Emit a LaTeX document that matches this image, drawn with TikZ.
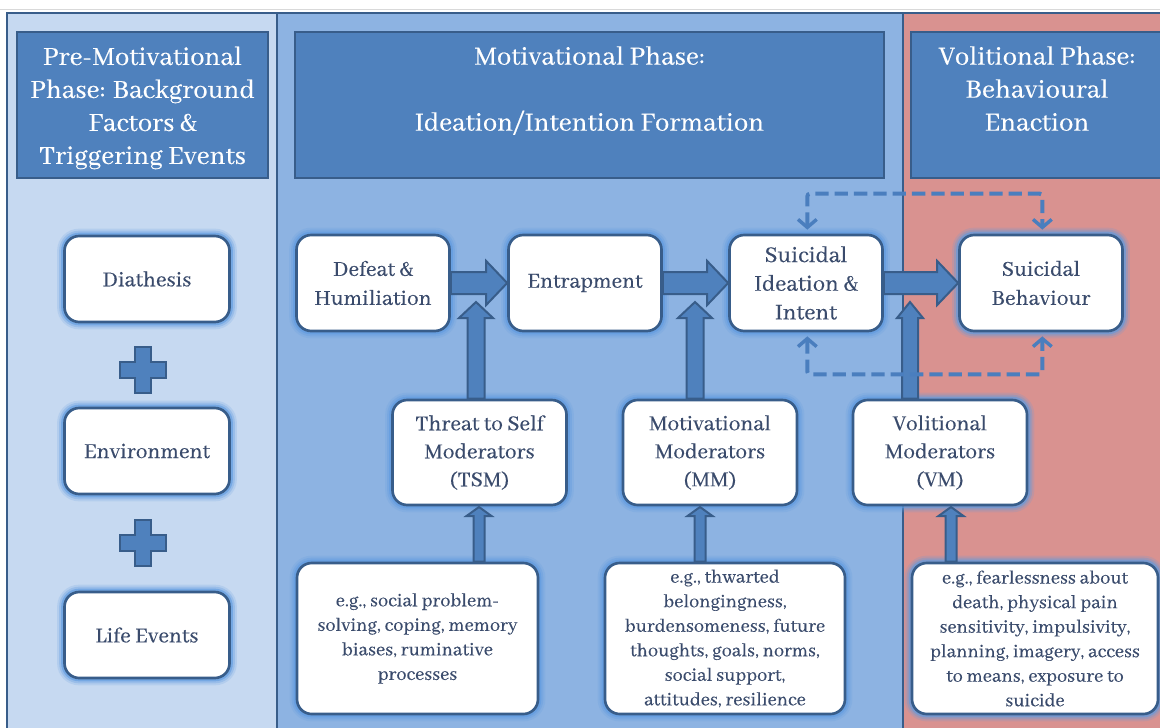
\documentclass[tikz,border=0pt]{standalone}
\usepackage{fontspec}
\setmainfont{Abhaya Libre}[FakeBold=0.4]
\usetikzlibrary{calc,arrows.meta}

\definecolor{leftc}{HTML}{C6D9F1}
\definecolor{midc}{HTML}{8DB3E2}
\definecolor{rightc}{HTML}{D99290}
\definecolor{headc}{HTML}{4F81BD}
\definecolor{bordc}{HTML}{385D8A}
\definecolor{textc}{HTML}{3A4B6C}
\definecolor{glowc}{HTML}{5E9AE0}
\definecolor{dashcol}{HTML}{4A7EBE}

\tikzset{
  panel/.style={draw=bordc, line width=1.8pt},
  header/.style={draw=bordc, line width=1.6pt, fill=headc, text=white, align=center,
    inner sep=0pt, font=\fontsize{21.5pt}{24.75pt}\selectfont},
  wbox/.style={draw=bordc, line width=2pt, fill=white, rounded corners=11pt, text=textc,
    align=center, inner sep=0pt,
    preaction={draw=glowc, line width=11pt, opacity=0.18},
    preaction={draw=glowc, line width=8pt, opacity=0.3},
    preaction={draw=glowc, line width=5pt, opacity=0.6}},
  stage/.style={wbox, font=\fontsize{17.5pt}{21.75pt}\selectfont},
  modbox/.style={wbox, minimum width=130.5pt, minimum height=78.75pt, font=\fontsize{17.5pt}{21pt}\selectfont},
  egbox/.style={wbox, minimum height=113.25pt, font=\fontsize{15.2pt}{18.4pt}\selectfont},
  barrow/.style={fill=headc, draw=bordc, line width=1.5pt, line join=miter},
  dashlink/.style={draw=dashcol, line width=3pt, dash pattern=on 10pt off 4.5pt,
    rounded corners=2pt,
    {Straight Barb[length=6pt,width=14pt,line width=2.6pt]}-{Straight Barb[length=6pt,width=14pt,line width=2.6pt]}}
}

% horizontal block arrow from east side of #1 to west side of #2
\newcommand\hblock[2]{%
  \draw[barrow] ($(#1.east)+(0,-11)$) -- ($(#2.west)+(-21,-11)$) -- ($(#2.west)+(-21,-22)$)
    -- (#2.west) -- ($(#2.west)+(-21,22)$) -- ($(#2.west)+(-21,11)$) -- ($(#1.east)+(0,11)$) -- cycle;}
% upward block arrow: base, tip, half shaft, half head, head length
\newcommand\vblock[5]{%
  \draw[barrow] ($(#1)+(-#3,0)$) -- ($(#2)+(-#3,#5)$) -- ($(#2)+(-#4,#5)$) -- (#2)
    -- ($(#2)+(#4,#5)$) -- ($(#2)+(#3,#5)$) -- ($(#1)+(#3,0)$) -- cycle;}
% plus sign centred at #1
\newcommand\plussign[1]{%
  \draw[barrow] (#1) ++(-8,-23) -- ++(16,0) -- ++(0,15) -- ++(15,0) -- ++(0,16) -- ++(-15,0)
    -- ++(0,15) -- ++(-16,0) -- ++(0,-15) -- ++(-15,0) -- ++(0,-16) -- ++(15,0) -- cycle;}

\begin{document}
\begin{tikzpicture}[x=0.75pt,y=-0.75pt]
\useasboundingbox (0,0) rectangle (1160,728);
\clip (0,0) rectangle (1160,728);
\fill[white] (0,0) rectangle (1160,728);
\draw[black!15, line width=0.75pt] (0,9) -- (1160,9);

% phase panels
\fill[leftc] (7,13) rectangle (277,740);
\fill[midc] (277,13) rectangle (903,740);
\fill[rightc] (903,13) rectangle (1175,740);
\draw[panel] (7,740) -- (7,13) -- (1175,13);
\draw[panel] (277,13) -- (277,740);
\draw[panel] (903,13) -- (903,740);

% phase headers
\node[header, minimum width=188.25pt, minimum height=109.5pt] (hpre) at (142.5,105) {};
\node[header, draw=none, fill=none] at (142.5,108)
  {Pre-Motivational\\Phase: Background\\Factors \&\\Triggering Events};
\node[header, minimum width=441.75pt, minimum height=109.5pt] (hmot) at (589.5,105)
  {Motivational Phase:\\\mbox{}\\Ideation/Intention Formation\\\mbox{}};
\node[header, minimum width=189pt, minimum height=109.5pt] (hvol) at (1037,105)
  {Volitional Phase:\\Behavioural\\Enaction\\\mbox{}};

% background factors
\node[stage, minimum width=123.75pt, minimum height=64.5pt] (dia) at (147,279) {Diathesis};
\node[stage, minimum width=123.75pt, minimum height=64.5pt] (env) at (147,451) {Environment};
\node[stage, minimum width=123.75pt, minimum height=64.5pt] (life) at (147,635) {Life Events};
\coordinate (plusA) at (143,370);
\coordinate (plusB) at (143,543);
\plussign{plusA}
\plussign{plusB}

% main pathway
\node[stage, minimum width=114.75pt, minimum height=72pt] (def) at (373,283) {Defeat \&\\Humiliation};
\node[stage, minimum width=114.75pt, minimum height=72pt] (ent) at (585,283) {Entrapment};
\node[stage, minimum width=114.75pt, minimum height=72pt, font=\fontsize{18.5pt}{21.5pt}\selectfont] (sii) at (806,283) {Suicidal\\Ideation \&\\Intent};
\node[stage, minimum width=122.25pt, minimum height=72pt] (sb) at (1041,283) {Suicidal\\Behaviour};

% moderators
\node[modbox] (tsm) at (479.5,452.5) {Threat to Self\\Moderators\\(TSM)};
\node[modbox] (mm) at (710,452.5) {Motivational\\Moderators\\(MM)};
\node[modbox] (vm) at (940,452.5) {Volitional\\Moderators\\(VM)};

% examples
\node[egbox, minimum width=180.75pt] (tsmx) at (417.5,638.5)
  {e.g., social problem-\\solving, coping, memory\\biases, ruminative\\processes};
\node[egbox, minimum width=180pt] (mmx) at (725,638.5)
  {e.g., thwarted\\belongingness,\\burdensomeness, future\\thoughts, goals, norms,\\social support,\\attitudes, resilience};
\node[egbox, minimum width=184.5pt] (vmx) at (1035,638.5)
  {e.g., fearlessness about\\death, physical pain\\sensitivity, impulsivity,\\planning, imagery, access\\to means, exposure to\\suicide};

% pathway arrows
\hblock{def}{ent}
\hblock{ent}{sii}
\hblock{sii}{sb}

% moderator arrows into the pathway
\coordinate (tipA) at (476,302);
\coordinate (tipB) at (695,302);
\coordinate (tipC) at (910,302);
\coordinate (baseA) at (tipA |- tsm.north);
\coordinate (baseB) at (tipB |- mm.north);
\coordinate (baseC) at (tipC |- vm.north);
\vblock{baseA}{tipA}{8.5}{17}{16}
\vblock{baseB}{tipB}{8.5}{17}{16}
\vblock{baseC}{tipC}{8}{13}{16}

% examples feeding the moderators
\coordinate (tipD) at (479,507);
\coordinate (tipE) at (700,507);
\coordinate (tipF) at (951,507);
\coordinate (baseD) at (tipD |- tsmx.north);
\coordinate (baseE) at (tipE |- mmx.north);
\coordinate (baseF) at (tipF |- vmx.north);
\vblock{baseD}{tipD}{5.5}{12.5}{9}
\vblock{baseE}{tipE}{5.5}{12.5}{9}
\vblock{baseF}{tipF}{5.5}{12.5}{9}

% feedback loops between ideation and behaviour
\draw[dashlink, shorten <=3pt, shorten >=3pt] ([xshift=1pt]sii.north) -- ++(0,-40) -| ([xshift=1pt]sb.north);
\draw[dashlink, shorten <=3pt, shorten >=3pt] ([xshift=1pt]sii.south) -- ++(0,42) -| ([xshift=1pt]sb.south);
\end{tikzpicture}
\end{document}
